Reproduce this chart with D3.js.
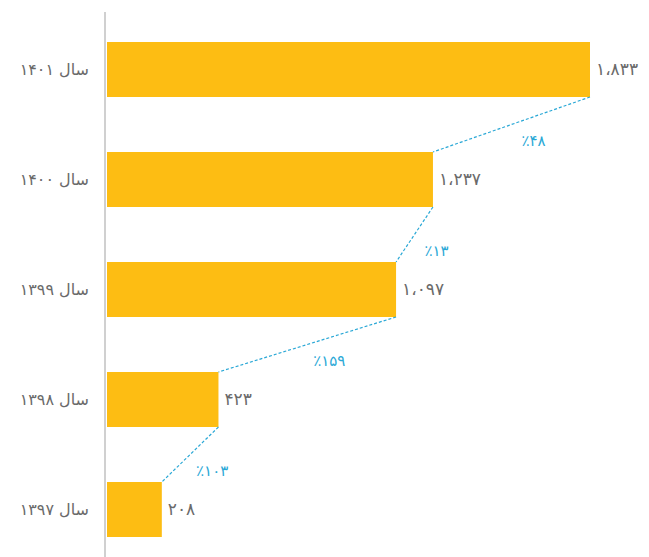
<!DOCTYPE html>
<html><head><meta charset="utf-8">
<script src="https://cdn.jsdelivr.net/npm/d3@7"></script>
<style>body{margin:0;background:#fff}svg{display:block}</style>
</head><body>
<script>
const categories = ["سال ۱۴۰۱","سال ۱۴۰۰","سال ۱۳۹۹","سال ۱۳۹۸","سال ۱۳۹۷"];
const values = [1833, 1237, 1097, 423, 208];
const valueLabels = ["۱،۸۳۳","۱،۲۳۷","۱،۰۹۷","۴۲۳","۲۰۸"];
const growthLabels = ["٪۴۸","٪۱۳","٪۱۵۹","٪۱۰۳"];

const W = 649, H = 557;
const svg = d3.select("body").append("svg").attr("width", W).attr("height", H);

const x = d3.scaleLinear().domain([0, 1833]).range([107, 590]);
const y = d3.scaleBand().domain(categories).range([-13, 592]).paddingInner(0.5).paddingOuter(0.5);

svg.append("line").attr("x1",105).attr("x2",105).attr("y1",12).attr("y2",H)
  .attr("stroke","#d0d0d0").attr("stroke-width",2);

svg.selectAll("rect.bar").data(values).join("rect")
  .attr("x", x(0)).attr("y", (d,i)=>y(categories[i]))
  .attr("width", d=>x(d)-x(0)).attr("height", y.bandwidth())
  .attr("fill","#FDBD13");

svg.selectAll("text.cat").data(categories).join("text")
  .attr("x", 89).attr("y", d=>y(d)+y.bandwidth()/2)
  .attr("dy","0.35em").attr("text-anchor","end")
  .attr("font-family","DejaVu Sans").attr("font-size",16).attr("fill","#6a6a6a")
  .text(d=>d);

svg.selectAll("text.val").data(values).join("text")
  .attr("x", d=>x(d)+6).attr("y", (d,i)=>y(categories[i])+y.bandwidth()/2)
  .attr("dy","0.35em").attr("text-anchor","start")
  .attr("font-family","DejaVu Sans").attr("font-size",17).attr("fill","#6a6a6a")
  .text((d,i)=>valueLabels[i]);

const segs = growthLabels.map((g,i)=>({
  x1: x(values[i]), y1: y(categories[i])+y.bandwidth(),
  x2: x(values[i+1]), y2: y(categories[i+1]), label: g
}));
svg.selectAll("line.conn").data(segs).join("line")
  .attr("x1",d=>d.x1).attr("y1",d=>d.y1).attr("x2",d=>d.x2).attr("y2",d=>d.y2)
  .attr("stroke","#2aa8d6").attr("stroke-width",1.2).attr("stroke-dasharray","3,2");

svg.selectAll("text.g").data(segs).join("text")
  .attr("x", d=>(d.x1+d.x2)/2+22).attr("y", d=>(d.y1+d.y2)/2+16)
  .attr("dy","0.35em").attr("text-anchor","middle")
  .attr("font-family","DejaVu Sans").attr("font-size",15).attr("fill","#2aa8d6")
  .attr("direction","ltr")
  .text(d=>d.label);
</script>
</body></html>
